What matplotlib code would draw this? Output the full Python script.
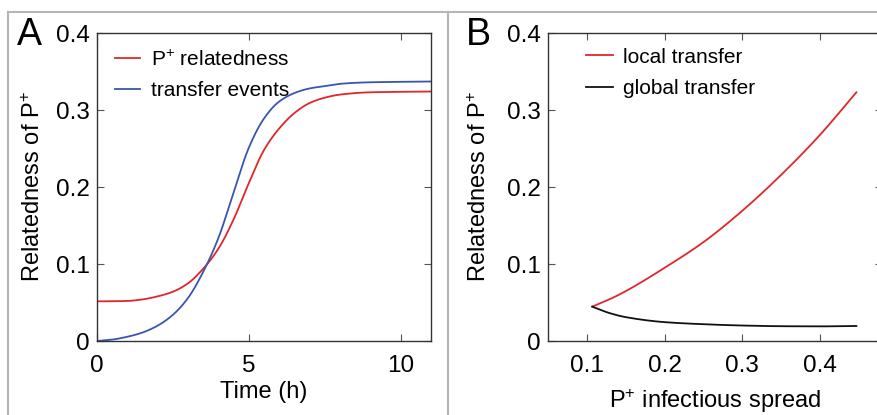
import numpy as np
import matplotlib
matplotlib.use("Agg")
import matplotlib.pyplot as plt
from matplotlib.lines import Line2D

plt.rcParams['font.family'] = ['Liberation Sans', 'DejaVu Sans']
plt.rcParams['mathtext.fontset'] = 'custom'
plt.rcParams['mathtext.rm'] = 'Liberation Sans'
plt.rcParams['mathtext.it'] = 'Liberation Sans:italic'

# Panel A data
time_h = [0, 0.5, 1, 1.5, 2, 2.5, 3, 3.5, 4, 4.5, 5, 5.5, 6, 6.5, 7, 7.5, 8, 9, 11]
relatedness_A = [0.0515, 0.0516, 0.052, 0.054, 0.058, 0.064, 0.075, 0.094, 0.120, 0.158, 0.205, 0.248, 0.276, 0.296, 0.309, 0.316, 0.320, 0.323, 0.324]
transfer_events = [0.0, 0.0018, 0.0055, 0.011, 0.020, 0.034, 0.056, 0.090, 0.134, 0.193, 0.251, 0.289, 0.311, 0.322, 0.328, 0.331, 0.334, 0.336, 0.337]

# Panel B data
spread = [0.107, 0.13, 0.15, 0.2, 0.25, 0.3, 0.35, 0.4, 0.447]
local_transfer = [0.0446, 0.0545, 0.0647, 0.0950, 0.1283, 0.169, 0.2156, 0.2675, 0.323]
global_transfer = [0.0446, 0.0360, 0.0310, 0.0245, 0.0218, 0.0201, 0.0192, 0.0190, 0.0195]

RED = '#e0262a'
BLUE = '#3a55b0'

W, H = 878, 415
fig = plt.figure(figsize=(W / 100, H / 100), dpi=100)

def px_axes(l, t, r, b):
    return [l / W, 1 - b / H, (r - l) / W, (b - t) / H]

def smooth(x, y, n=400):
    # monotone cubic (PCHIP-like) interpolation for drawing only
    x = np.asarray(x, float); y = np.asarray(y, float)
    h = np.diff(x); d = np.diff(y) / h
    m = np.zeros_like(y)
    for i in range(1, len(y) - 1):
        if d[i - 1] * d[i] <= 0:
            m[i] = 0
        else:
            w1 = 2 * h[i] + h[i - 1]; w2 = h[i] + 2 * h[i - 1]
            m[i] = (w1 + w2) / (w1 / d[i - 1] + w2 / d[i])
    m[0] = d[0]; m[-1] = d[-1]
    xs = np.linspace(x[0], x[-1], n)
    idx = np.clip(np.searchsorted(x, xs) - 1, 0, len(h) - 1)
    t = (xs - x[idx]) / h[idx]
    h00 = 2 * t**3 - 3 * t**2 + 1; h10 = t**3 - 2 * t**2 + t
    h01 = -2 * t**3 + 3 * t**2; h11 = t**3 - t**2
    ys = h00 * y[idx] + h10 * h[idx] * m[idx] + h01 * y[idx + 1] + h11 * h[idx] * m[idx + 1]
    return xs, ys

def style(ax):
    for s in ax.spines.values():
        s.set_color('#333333')
        s.set_linewidth(1.0)
    ax.tick_params(direction='in', length=5, width=0.8, color='#555555',
                   top=True, right=True, labelsize=17.5)
    ax.tick_params(axis='x', pad=10)
    ax.tick_params(axis='y', pad=5)

axA = fig.add_axes(px_axes(97, 33, 431, 341))
xs, ys = smooth(time_h, relatedness_A)
axA.plot(xs, ys, color=RED, lw=1.3, label='P$^{+}$ relatedness')
xs, ys = smooth(time_h, transfer_events)
axA.plot(xs, ys, color=BLUE, lw=1.3, label='transfer events')
axA.set_xlim(0, 11)
axA.set_ylim(0, 0.4)
axA.set_xticks([0, 5, 10])
axA.set_xticklabels(['0', '5', '10'])
axA.set_yticks([0, 0.1, 0.2, 0.3, 0.4])
axA.set_yticklabels(['0', '0.1', '0.2', '0.3', '0.4'])
axA.set_xlabel('Time (h)', fontsize=17, labelpad=3)
axA.set_ylabel('Relatedness of P$^{+}$', fontsize=17, labelpad=8)
style(axA)
axA.legend(loc='upper left', frameon=False, fontsize=15, handlelength=1.2,
           handletextpad=0.5, labelspacing=0.55, borderaxespad=0.4,
           bbox_to_anchor=(0.005, 1.0))

axB = fig.add_axes(px_axes(548, 33, 882, 341))
xs, ys = smooth(spread, local_transfer)
axB.plot(xs, ys, color=RED, lw=1.3, label='local transfer')
xs, ys = smooth(spread, global_transfer)
axB.plot(xs, ys, color='#111111', lw=1.3, label='global transfer')
axB.set_xlim(0.05, 0.48)
axB.set_ylim(0, 0.4)
axB.set_xticks([0.1, 0.2, 0.3, 0.4])
axB.set_xticklabels(['0.1', '0.2', '0.3', '0.4'])
axB.set_yticks([0, 0.1, 0.2, 0.3, 0.4])
axB.set_yticklabels(['0', '0.1', '0.2', '0.3', '0.4'])
axB.set_xlabel('P$^{+}$ infectious spread', fontsize=17, labelpad=7)
axB.set_ylabel('Relatedness of P$^{+}$', fontsize=17, labelpad=12)
style(axB)
axB.legend(loc='upper left', frameon=False, fontsize=15, handlelength=1.3,
           handletextpad=0.5, labelspacing=0.6, borderaxespad=0.3,
           bbox_to_anchor=(0.07, 1.0))

# panel letters
fig.text(17 / W, 1 - 35 / H, 'A', fontsize=27, va='center', ha='left')
fig.text(466 / W, 1 - 35 / H, 'B', fontsize=27, va='center', ha='left')

# panel borders
grey = '#b5b5b5'
fig.add_artist(Line2D([8 / W, 1], [1 - 12 / H, 1 - 12 / H], color=grey, lw=1.5))
fig.add_artist(Line2D([8 / W, 8 / W], [0, 1 - 12 / H], color=grey, lw=1.5))
fig.add_artist(Line2D([448 / W, 448 / W], [0, 1 - 12 / H], color=grey, lw=1.5))

fig.savefig('out.png', dpi=100)
